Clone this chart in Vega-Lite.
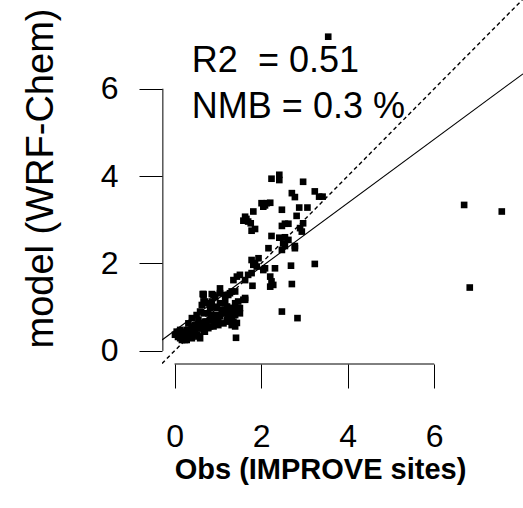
{
  "$schema": "https://vega.github.io/schema/vega-lite/v6.json",
  "autosize": "none",
  "width": 361,
  "height": 364,
  "padding": {"left": 162, "top": 0, "right": 0, "bottom": 144},
  "background": "white",
  "config": {"view": {"stroke": null}, "font": "Liberation Sans"},
  "datasets": {
    "pts": [
      {"obs": 2.24, "model": 3.94}, {"obs": 2.42, "model": 4.03}, {"obs": 2.42, "model": 3.91}, {"obs": 2.97, "model": 3.87},
      {"obs": 2.71, "model": 3.61}, {"obs": 2.78, "model": 3.52}, {"obs": 3.24, "model": 3.65}, {"obs": 3.34, "model": 3.53},
      {"obs": 3.42, "model": 3.53}, {"obs": 2.01, "model": 3.38}, {"obs": 2.05, "model": 3.30}, {"obs": 2.13, "model": 3.38},
      {"obs": 2.21, "model": 3.39}, {"obs": 2.09, "model": 3.33}, {"obs": 2.48, "model": 3.23}, {"obs": 2.88, "model": 3.28},
      {"obs": 3.07, "model": 3.28}, {"obs": 2.82, "model": 3.09}, {"obs": 1.82, "model": 3.19}, {"obs": 1.63, "model": 3.07},
      {"obs": 1.59, "model": 2.98}, {"obs": 1.70, "model": 2.96}, {"obs": 1.76, "model": 2.92}, {"obs": 1.66, "model": 3.02},
      {"obs": 1.78, "model": 2.75}, {"obs": 1.86, "model": 2.79}, {"obs": 2.48, "model": 2.86}, {"obs": 2.55, "model": 2.91},
      {"obs": 2.63, "model": 2.91}, {"obs": 2.90, "model": 2.81}, {"obs": 2.97, "model": 2.92}, {"obs": 2.94, "model": 2.73},
      {"obs": 2.24, "model": 2.63}, {"obs": 2.42, "model": 2.59}, {"obs": 2.55, "model": 2.60}, {"obs": 2.63, "model": 2.54},
      {"obs": 2.51, "model": 2.46}, {"obs": 2.48, "model": 2.31}, {"obs": 2.55, "model": 2.40}, {"obs": 2.78, "model": 2.40},
      {"obs": 2.78, "model": 2.35}, {"obs": 2.17, "model": 2.35}, {"obs": 1.78, "model": 2.08}, {"obs": 1.86, "model": 2.01},
      {"obs": 1.94, "model": 2.12}, {"obs": 1.90, "model": 1.93}, {"obs": 1.82, "model": 1.97}, {"obs": 2.09, "model": 1.89},
      {"obs": 2.32, "model": 1.89}, {"obs": 2.05, "model": 1.85}, {"obs": 2.69, "model": 1.95}, {"obs": 3.24, "model": 1.99},
      {"obs": 1.44, "model": 1.70}, {"obs": 1.51, "model": 1.74}, {"obs": 1.70, "model": 1.74}, {"obs": 1.78, "model": 1.78},
      {"obs": 1.63, "model": 1.62}, {"obs": 1.36, "model": 1.62}, {"obs": 2.21, "model": 1.70}, {"obs": 2.24, "model": 1.59},
      {"obs": 2.28, "model": 1.51}, {"obs": 2.21, "model": 1.47}, {"obs": 1.80, "model": 1.49}, {"obs": 2.71, "model": 1.53},
      {"obs": 2.48, "model": 0.90}, {"obs": 2.84, "model": 0.75}, {"obs": 6.69, "model": 3.34}, {"obs": 7.56, "model": 3.19},
      {"obs": 6.82, "model": 1.45}, {"obs": 3.55, "model": 7.19},
      {"obs": 0.67, "model": 1.30}, {"obs": 1.05, "model": 1.43}, {"obs": 0.90, "model": 1.28}, {"obs": 1.17, "model": 1.28},
      {"obs": 1.28, "model": 1.32}, {"obs": 1.40, "model": 1.36}, {"obs": 1.63, "model": 1.21}, {"obs": 1.59, "model": 1.17},
      {"obs": 1.40, "model": 1.09}, {"obs": 1.47, "model": 0.94}, {"obs": 1.51, "model": 0.86}, {"obs": 1.36, "model": 0.67},
      {"obs": 1.40, "model": 0.56}, {"obs": 1.42, "model": 0.30}, {"obs": 0.63, "model": 1.05}, {"obs": 0.70, "model": 1.13},
      {"obs": 0.78, "model": 1.09}, {"obs": 0.86, "model": 1.01}, {"obs": 0.97, "model": 0.98}, {"obs": 1.09, "model": 0.94},
      {"obs": 1.17, "model": 0.86}, {"obs": 1.24, "model": 0.82}, {"obs": 1.05, "model": 0.79}, {"obs": 0.94, "model": 0.75},
      {"obs": 0.82, "model": 0.71}, {"obs": 0.70, "model": 0.67}, {"obs": 0.59, "model": 0.63}, {"obs": 0.47, "model": 0.59},
      {"obs": 0.40, "model": 0.52}, {"obs": 0.32, "model": 0.48}, {"obs": 0.24, "model": 0.44}, {"obs": 0.17, "model": 0.40},
      {"obs": 0.09, "model": 0.37}, {"obs": 0.05, "model": 0.44}, {"obs": 0.13, "model": 0.48}, {"obs": 0.20, "model": 0.29},
      {"obs": 0.28, "model": 0.25}, {"obs": 0.40, "model": 0.33}, {"obs": 0.51, "model": 0.37}, {"obs": 0.59, "model": 0.29},
      {"obs": 0.70, "model": 0.44}, {"obs": 0.78, "model": 0.52}, {"obs": 0.90, "model": 0.56}, {"obs": 1.01, "model": 0.59},
      {"obs": 1.13, "model": 0.63}, {"obs": 1.21, "model": 0.67}, {"obs": 0.32, "model": 0.63}, {"obs": 0.40, "model": 0.75},
      {"obs": 0.51, "model": 0.82}, {"obs": 0.59, "model": 0.90}, {"obs": 0.67, "model": 0.86}, {"obs": 0.78, "model": 0.86},
      {"obs": 0.86, "model": 0.82}, {"obs": 1.28, "model": 0.98}, {"obs": 1.32, "model": 0.75}, {"obs": 0.47, "model": 0.48},
      {"obs": 0.63, "model": 0.52}, {"obs": 0.55, "model": 0.71}, {"obs": 0.01, "model": 0.37}, {"obs": 0.17, "model": 0.25},
      {"obs": 0.32, "model": 0.37}, {"obs": 0.43, "model": 0.40}, {"obs": 1.32, "model": 0.59}, {"obs": 1.51, "model": 0.98},
      {"obs": 1.47, "model": 1.13}, {"obs": 0.65, "model": 1.30}, {"obs": 0.86, "model": 1.30}, {"obs": 1.32, "model": 1.36},
      {"obs": 1.24, "model": 1.28}, {"obs": 1.17, "model": 1.24}, {"obs": 0.94, "model": 1.24}, {"obs": 0.86, "model": 1.13},
      {"obs": 0.67, "model": 1.13}, {"obs": 1.17, "model": 1.09}, {"obs": 1.21, "model": 1.01}, {"obs": 1.36, "model": 0.98},
      {"obs": 1.28, "model": 0.86}, {"obs": 1.01, "model": 0.67}, {"obs": 0.55, "model": 0.33}, {"obs": 0.36, "model": 0.37},
      {"obs": 0.24, "model": 0.33}, {"obs": 1.05, "model": 1.09}, {"obs": 0.97, "model": 1.01}, {"obs": 0.82, "model": 0.98},
      {"obs": 0.13, "model": 0.29}, {"obs": 0.24, "model": 0.37}, {"obs": 0.36, "model": 0.40}, {"obs": 0.47, "model": 0.48},
      {"obs": 0.59, "model": 0.52}, {"obs": 0.24, "model": 0.25}, {"obs": 0.40, "model": 0.29}, {"obs": 0.51, "model": 0.37},
      {"obs": 0.67, "model": 0.44}, {"obs": 0.82, "model": 0.56}, {"obs": 0.94, "model": 0.64}, {"obs": 0.74, "model": 0.67},
      {"obs": 0.63, "model": 0.64}, {"obs": 0.51, "model": 0.60}, {"obs": 0.40, "model": 0.56}, {"obs": 0.28, "model": 0.48},
      {"obs": 0.90, "model": 0.79}, {"obs": 1.01, "model": 0.82}, {"obs": 1.13, "model": 0.86}, {"obs": 1.21, "model": 0.71},
      {"obs": 1.32, "model": 0.74}, {"obs": 1.44, "model": 0.64}, {"obs": 1.63, "model": 1.17}, {"obs": 1.05, "model": 1.32},
      {"obs": 0.67, "model": 1.28}, {"obs": 1.21, "model": 1.01}, {"obs": 1.32, "model": 0.94}, {"obs": 1.44, "model": 0.98},
      {"obs": 1.40, "model": 0.82}, {"obs": 0.20, "model": 0.36}, {"obs": 0.08, "model": 0.32}, {"obs": 0.44, "model": 0.45}
    ],
    "one2one": [{"obs": -0.29, "model": -0.29}, {"obs": 8.05, "model": 8.05}],
    "fit": [{"obs": -0.29, "model": 0.248}, {"obs": 8.05, "model": 6.34}],
    "xaxisline": [{"obs": 0, "obs2": 6, "model": -0.3}],
    "yaxisline": [{"obs": -0.27, "model": 0, "model2": 6}],
    "notes": [
      {"obs": 0.40, "model": 6.38, "label": "R2\u00a0 = 0.51"},
      {"obs": 0.40, "model": 5.33, "label": "NMB = 0.3 %"}
    ]
  },
  "encoding": {
    "x": {
      "field": "obs", "type": "quantitative",
      "scale": {"domain": [-0.29, 8.05], "nice": false, "zero": false},
      "axis": {
        "values": [0, 2, 4, 6], "domain": false, "grid": false,
        "tickSize": 24, "tickColor": "black", "tickWidth": 1,
        "labelFontSize": 32, "labelColor": "black", "labelPadding": 48,
        "labelBaseline": "middle", "labelFont": "Liberation Sans", "labelFlush": false,
        "title": "Obs (IMPROVE sites)", "titleFont": "Liberation Sans", "titleFontSize": 29,
        "titleFontWeight": "bold", "titleColor": "black", "titleX": 158, "titleY": 114,
        "titleAlign": "center", "titleBaseline": "alphabetic"
      }
    },
    "y": {
      "field": "model", "type": "quantitative",
      "scale": {"domain": [-0.3, 8.03], "nice": false, "zero": false},
      "axis": {
        "values": [0, 2, 4, 6], "domain": false, "grid": false,
        "tickSize": 23, "tickColor": "black", "tickWidth": 1,
        "labelFontSize": 32, "labelColor": "black", "labelPadding": 21,
        "labelFont": "Liberation Sans", "labelFlush": false, "labelBaseline": "middle",
        "title": "model (WRF-Chem)", "titleFont": "Liberation Sans", "titleFontSize": 38,
        "titleFontWeight": "normal", "titleColor": "black", "titleX": -110, "titleY": 178,
        "titleAngle": 270, "titleAlign": "center", "titleBaseline": "alphabetic"
      }
    }
  },
  "layer": [
    {
      "data": {"name": "pts"},
      "mark": {"type": "square", "filled": true, "color": "black", "size": 44, "opacity": 1}
    },
    {
      "data": {"name": "one2one"},
      "mark": {"type": "line", "color": "black", "strokeWidth": 1.4, "strokeDash": [4, 3], "clip": true}
    },
    {
      "data": {"name": "fit"},
      "mark": {"type": "line", "color": "black", "strokeWidth": 1.1, "clip": true}
    },
    {
      "data": {"name": "xaxisline"},
      "mark": {"type": "rule", "color": "black", "strokeWidth": 1},
      "encoding": {"x2": {"field": "obs2"}}
    },
    {
      "data": {"name": "yaxisline"},
      "mark": {"type": "rule", "color": "black", "strokeWidth": 1},
      "encoding": {"y2": {"field": "model2"}}
    },
    {
      "data": {"name": "notes"},
      "mark": {"type": "text", "align": "left", "baseline": "alphabetic", "fontSize": 36, "font": "Liberation Sans", "color": "black"},
      "encoding": {"text": {"field": "label"}}
    }
  ]
}
